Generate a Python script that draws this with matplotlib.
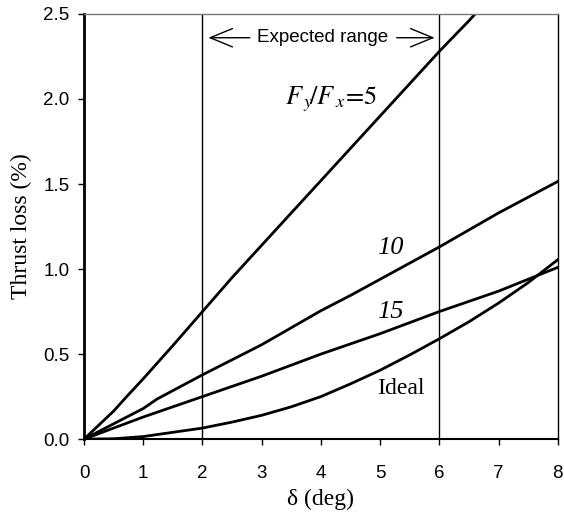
import numpy as np
import matplotlib
matplotlib.use("Agg")
import matplotlib.pyplot as plt

plt.rcParams['mathtext.fontset'] = 'stix'

# data
x5 = [0, 0.5, 0.72, 1, 1.5, 2, 2.5, 3, 3.5, 4, 4.5, 5, 5.5, 6, 6.5, 7]
y5 = [0, 0.165, 0.25, 0.355, 0.55, 0.75, 0.95, 1.14, 1.33, 1.52, 1.71, 1.90, 2.09, 2.28, 2.46, 2.65]

x10 = [0, 1, 1.23, 2, 3, 4, 4.5, 5, 6, 7, 8]
y10 = [0, 0.18, 0.235, 0.378, 0.555, 0.755, 0.845, 0.94, 1.13, 1.33, 1.515]

x15 = [0, 1, 2, 3, 4, 5, 6, 6.5, 7, 8]
y15 = [0, 0.13, 0.25, 0.37, 0.50, 0.62, 0.75, 0.81, 0.87, 1.01]

xid = [0, 0.5, 1, 1.5, 2, 2.5, 3, 3.5, 4, 4.5, 5, 5.5, 6, 6.5, 7, 7.5, 8]
yid = [0, 0.002, 0.015, 0.04, 0.065, 0.10, 0.14, 0.19, 0.25, 0.325, 0.405, 0.495, 0.59, 0.69, 0.80, 0.92, 1.055]

range_lo, range_hi = 2, 6

fig = plt.figure(figsize=(5.64, 5.16), dpi=100)
ax = fig.add_axes([0.149, 0.149, 0.840, 0.824])

for xs, ys in [(x5, y5), (x10, y10), (x15, y15), (xid, yid)]:
    ax.plot(xs, ys, color='black', lw=2, solid_joinstyle='round')

ax.axvline(range_lo, color='black', lw=1)
ax.axvline(range_hi, color='black', lw=1)

ax.set_xlim(0, 8)
ax.set_ylim(0, 2.5)
ax.set_xticks(np.arange(0, 9, 1))
ax.set_yticks(np.arange(0, 2.6, 0.5))
ax.set_yticklabels(['%.1f' % v for v in np.arange(0, 2.6, 0.5)])
ax.tick_params(direction='out', length=4.5, width=1, labelsize=13.5)
ax.tick_params(axis='x', pad=14)
ax.tick_params(axis='y', pad=6)
for lab in ax.get_xticklabels() + ax.get_yticklabels():
    lab.set_fontfamily('Liberation Sans')

ax.spines['left'].set_linewidth(2)
ax.spines['bottom'].set_linewidth(1.5)
ax.spines['right'].set_linewidth(1)
ax.spines['top'].set_linewidth(1)
ax.spines['top'].set_color('#777777')

ax.set_xlabel('δ (deg)', family='Liberation Serif', fontsize=17, labelpad=5)
ax.set_ylabel('Thrust loss (%)', family='Liberation Serif', fontsize=17, labelpad=8)

# expected range annotation
ax.text(4.03, 2.36, 'Expected range', ha='center', va='center',
        family='Liberation Sans', fontsize=13.5)
arrow = dict(arrowstyle='->,head_length=0.8,head_width=0.33', color='black',
             lw=1, mutation_scale=20, shrinkA=0, shrinkB=0)
ax.annotate('', xy=(2.1, 2.36), xytext=(2.8, 2.36), arrowprops=arrow)
ax.annotate('', xy=(5.92, 2.36), xytext=(5.28, 2.36), arrowprops=arrow)

ax.text(4.17, 2.0, r'$F_{\,y}\!/F_{\,x}\!=\!5$', ha='center', va='center', fontsize=19)
ax.text(5.18, 1.125, '10', ha='center', va='center', family='Liberation Serif',
        style='italic', fontsize=19)
ax.text(5.18, 0.75, '15', ha='center', va='center', family='Liberation Serif',
        style='italic', fontsize=19)
ax.text(5.35, 0.30, 'Ideal', ha='center', va='center', family='Liberation Serif', fontsize=17)

fig.savefig('out.png', dpi=100)
